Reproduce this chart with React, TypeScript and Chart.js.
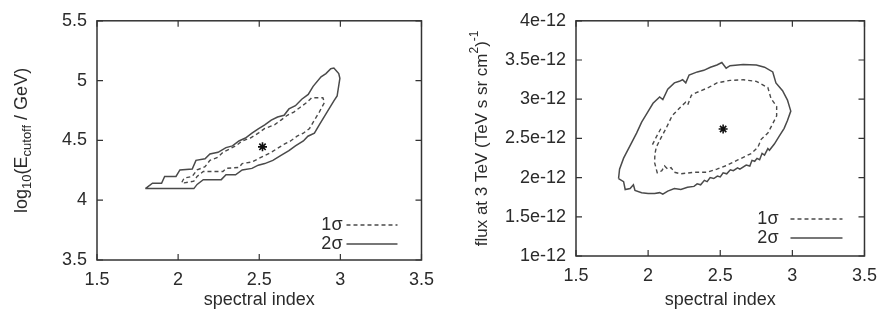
import React, { useEffect, useRef } from "react";
import { Chart, registerables } from "chart.js";

Chart.register(...registerables);

// ---------- shared axis ----------
const xTickValues = [1.5, 2, 2.5, 3, 3.5];
const xTickLabels = ["1.5", "2", "2.5", "3", "3.5"];
const xTitle = "spectral index";

// ---------- left panel: log10(E_cutoff / GeV) vs spectral index ----------
const leftYTickValues = [3.5, 4, 4.5, 5, 5.5];
const leftYTickLabels = ["3.5", "4", "4.5", "5", "5.5"];

const leftSigma2X = [1.798, 1.842, 1.898, 1.917, 1.987, 2.011, 2.087, 2.11, 2.166, 2.196, 2.246, 2.295, 2.335, 2.375, 2.415, 2.455, 2.494, 2.534, 2.574, 2.613, 2.653, 2.683, 2.723, 2.762, 2.802, 2.832, 2.881, 2.911, 2.941, 2.96, 2.99, 2.997, 2.98, 2.96, 2.93, 2.9, 2.87, 2.84, 2.8, 2.772, 2.723, 2.683, 2.634, 2.584, 2.534, 2.494, 2.455, 2.395, 2.354, 2.295, 2.266, 2.155, 2.117, 2.097, 1.798];
const leftSigma2Y = [4.097, 4.142, 4.142, 4.199, 4.199, 4.253, 4.26, 4.333, 4.347, 4.387, 4.4, 4.44, 4.454, 4.495, 4.52, 4.56, 4.597, 4.629, 4.669, 4.696, 4.71, 4.763, 4.79, 4.844, 4.884, 4.952, 5.032, 5.059, 5.1, 5.105, 5.059, 5.019, 4.871, 4.83, 4.763, 4.696, 4.63, 4.56, 4.535, 4.495, 4.454, 4.414, 4.374, 4.333, 4.306, 4.293, 4.266, 4.253, 4.212, 4.212, 4.172, 4.172, 4.132, 4.097, 4.097];

const leftSigma1X = [2.023, 2.037, 2.087, 2.117, 2.166, 2.196, 2.246, 2.276, 2.315, 2.355, 2.395, 2.445, 2.494, 2.534, 2.594, 2.634, 2.673, 2.713, 2.753, 2.793, 2.823, 2.892, 2.902, 2.87, 2.84, 2.81, 2.772, 2.733, 2.693, 2.654, 2.614, 2.574, 2.534, 2.494, 2.455, 2.395, 2.375, 2.296, 2.276, 2.155, 2.117, 2.097, 2.037, 2.023];
const leftSigma1Y = [4.15, 4.185, 4.199, 4.253, 4.28, 4.333, 4.36, 4.4, 4.427, 4.454, 4.495, 4.52, 4.56, 4.6, 4.63, 4.67, 4.71, 4.737, 4.777, 4.817, 4.857, 4.857, 4.817, 4.737, 4.67, 4.6, 4.56, 4.535, 4.495, 4.468, 4.435, 4.4, 4.374, 4.347, 4.32, 4.306, 4.274, 4.266, 4.24, 4.24, 4.199, 4.159, 4.145, 4.15];

const leftBestX = [2.52];
const leftBestY = [4.446];

// ---------- right panel: flux at 3 TeV vs spectral index (values in units of 1e-12) ----------
const FLUX_UNIT = 1e-12;
const rightYTickValues = [1, 1.5, 2, 2.5, 3, 3.5, 4];
const rightYTickLabels = ["1e-12", "1.5e-12", "2e-12", "2.5e-12", "3e-12", "3.5e-12", "4e-12"];

const rightSigma2X = [1.795, 1.802, 1.83, 1.875, 1.92, 1.955, 1.995, 2.034, 2.08, 2.102, 2.136, 2.182, 2.216, 2.239, 2.261, 2.284, 2.341, 2.386, 2.432, 2.477, 2.511, 2.541, 2.568, 2.659, 2.75, 2.807, 2.864, 2.886, 2.932, 2.966, 2.989, 2.966, 2.943, 2.909, 2.875, 2.841, 2.83, 2.807, 2.79, 2.773, 2.755, 2.739, 2.72, 2.705, 2.68, 2.636, 2.62, 2.591, 2.57, 2.545, 2.52, 2.5, 2.48, 2.455, 2.43, 2.409, 2.39, 2.364, 2.34, 2.318, 2.273, 2.227, 2.182, 2.136, 2.102, 2.08, 2.045, 2.0, 1.955, 1.909, 1.898, 1.875, 1.841, 1.83, 1.795];
const rightSigma2Y = [1.988, 2.108, 2.248, 2.408, 2.568, 2.708, 2.828, 2.948, 3.028, 2.996, 3.128, 3.208, 3.228, 3.248, 3.208, 3.308, 3.348, 3.368, 3.408, 3.436, 3.468, 3.396, 3.428, 3.444, 3.436, 3.408, 3.348, 3.208, 3.108, 2.988, 2.848, 2.728, 2.628, 2.528, 2.428, 2.348, 2.37, 2.288, 2.31, 2.228, 2.245, 2.208, 2.22, 2.148, 2.16, 2.108, 2.125, 2.088, 2.1, 2.048, 2.06, 2.008, 2.02, 1.988, 2.0, 1.948, 1.965, 1.908, 1.92, 1.888, 1.876, 1.848, 1.86, 1.828, 1.788, 1.808, 1.796, 1.796, 1.808, 1.836, 1.908, 1.86, 1.848, 1.948, 1.988];

const rightSigma1X = [2.064, 2.045, 2.047, 2.057, 2.09, 2.125, 2.167, 2.23, 2.26, 2.275, 2.3, 2.33, 2.42, 2.477, 2.568, 2.659, 2.75, 2.83, 2.852, 2.891, 2.891, 2.864, 2.83, 2.784, 2.761, 2.716, 2.67, 2.625, 2.58, 2.534, 2.477, 2.409, 2.318, 2.227, 2.182, 2.159, 2.136, 2.114, 2.095, 2.064];
const rightSigma1Y = [2.056, 2.19, 2.3, 2.39, 2.51, 2.63, 2.79, 2.91, 2.96, 2.93, 3.05, 3.08, 3.15, 3.208, 3.24, 3.248, 3.228, 3.148, 3.008, 2.908, 2.788, 2.688, 2.568, 2.488, 2.388, 2.308, 2.268, 2.228, 2.188, 2.148, 2.108, 2.068, 2.068, 2.048, 2.068, 2.128, 2.108, 2.148, 2.088, 2.056];

// small detached piece of the 1 sigma contour
const rightSigma1IslandX = [2.03, 2.06, 2.09];
const rightSigma1IslandY = [2.42, 2.53, 2.63];

const rightBestX = [2.52];
const rightBestY = [2.62];

const legendLabels = ["1σ", "2σ"];

// ---------- drawing helpers ----------
const FONT = '"Liberation Sans", Arial, Helvetica, sans-serif';
const FS = 18;
const TEXT = "#2b2b2b";
const LINE = "#4a4a4a";

type Run = { t: string; size: number; dy: number };

function drawRuns(ctx: CanvasRenderingContext2D, runs: Run[], cx: number, cy: number, rotate: boolean) {
  ctx.save();
  ctx.translate(cx, cy);
  if (rotate) ctx.rotate(-Math.PI / 2);
  let total = 0;
  for (const r of runs) {
    ctx.font = `${r.size}px ${FONT}`;
    total += ctx.measureText(r.t).width;
  }
  let x = -total / 2;
  ctx.fillStyle = TEXT;
  ctx.textBaseline = "middle";
  ctx.textAlign = "left";
  for (const r of runs) {
    ctx.font = `${r.size}px ${FONT}`;
    ctx.fillText(r.t, x, r.dy);
    x += ctx.measureText(r.t).width;
  }
  ctx.restore();
}

type PanelProps = {
  left: number;
  width: number;
  height: number;
  padTop: number;
  padRight: number;
  yAxisWidth: number;
  xAxisHeight: number;
  yMin: number;
  yMax: number;
  yTickValues: number[];
  yTickLabels: string[];
  yScaleFactor: number;
  sigma1: { x: number[]; y: number[] }[];
  sigma2: { x: number[]; y: number[] };
  best: { x: number[]; y: number[] };
  yTitleRuns: Run[];
  yTitleOffset: number;
  xTitleY: number;
  legendTextOffset: number;
  legendLineStart: number;
  legendLineEnd: number;
  legendRow1: number;
  legendRow2: number;
};

function toPoints(xs: number[], ys: number[], f: number) {
  return xs.map((x, i) => ({ x, y: ys[i] * f }));
}

function Panel(p: PanelProps) {
  const ref = useRef<HTMLCanvasElement | null>(null);
  useEffect(() => {
    if (!ref.current) return;
    const f = p.yScaleFactor;
    const framePlugin = {
      id: "gnuplotFrame",
      afterDraw(chart: any) {
        const { ctx, chartArea: a } = chart;
        const xs = chart.scales.x;
        const ys = chart.scales.y;
        ctx.save();
        ctx.strokeStyle = "#333";
        ctx.lineWidth = 1.5;
        ctx.strokeRect(a.left, a.top, a.right - a.left, a.bottom - a.top);
        ctx.lineWidth = 1.2;
        const tl = 6;
        ctx.beginPath();
        for (const v of xTickValues) {
          const px = xs.getPixelForValue(v);
          ctx.moveTo(px, a.bottom);
          ctx.lineTo(px, a.bottom - tl);
          ctx.moveTo(px, a.top);
          ctx.lineTo(px, a.top + tl);
        }
        for (const v of p.yTickValues) {
          const py = ys.getPixelForValue(v * f);
          ctx.moveTo(a.left, py);
          ctx.lineTo(a.left + tl, py);
          ctx.moveTo(a.right, py);
          ctx.lineTo(a.right - tl, py);
        }
        ctx.stroke();
        // legend
        ctx.font = `${FS}px ${FONT}`;
        ctx.fillStyle = TEXT;
        ctx.textAlign = "right";
        ctx.textBaseline = "middle";
        const rows = [a.bottom - p.legendRow1, a.bottom - p.legendRow2];
        ctx.fillText(legendLabels[0], a.right - p.legendTextOffset, rows[0]);
        ctx.fillText(legendLabels[1], a.right - p.legendTextOffset, rows[1]);
        ctx.strokeStyle = LINE;
        ctx.lineWidth = 1.5;
        ctx.setLineDash([4, 3]);
        ctx.beginPath();
        ctx.moveTo(a.right - p.legendLineStart, rows[0]);
        ctx.lineTo(a.right - p.legendLineEnd, rows[0]);
        ctx.stroke();
        ctx.setLineDash([]);
        ctx.beginPath();
        ctx.moveTo(a.right - p.legendLineStart, rows[1]);
        ctx.lineTo(a.right - p.legendLineEnd, rows[1]);
        ctx.stroke();
        ctx.restore();
        drawRuns(ctx, p.yTitleRuns, a.left - p.yTitleOffset, (a.top + a.bottom) / 2, true);
        drawRuns(ctx, [{ t: xTitle, size: FS, dy: 0 }], (a.left + a.right) / 2, p.xTitleY, false);
      },
    };

    const datasets: any[] = [];
    p.sigma1.forEach((s) => {
      datasets.push({
        data: toPoints(s.x, s.y, f),
        showLine: true,
        borderColor: LINE,
        borderWidth: 1.4,
        borderDash: [4, 3],
        pointRadius: 0,
        tension: 0,
        fill: false,
      });
    });
    datasets.push({
      data: toPoints(p.sigma2.x, p.sigma2.y, f),
      showLine: true,
      borderColor: LINE,
      borderWidth: 1.5,
      pointRadius: 0,
      tension: 0,
      fill: false,
    });
    datasets.push({
      data: toPoints(p.best.x, p.best.y, f),
      showLine: false,
      pointStyle: "star",
      pointRadius: 4.5,
      borderColor: "#111",
      backgroundColor: "#111",
      pointBorderWidth: 1.6,
    });

    const chart = new Chart(ref.current, {
      type: "scatter",
      data: { datasets },
      options: {
        animation: false,
        responsive: false,
        layout: { padding: { top: p.padTop, right: p.padRight, left: 0, bottom: 0 } },
        plugins: { legend: { display: false }, tooltip: { enabled: false } },
        scales: {
          x: {
            type: "linear",
            min: 1.5,
            max: 3.5,
            afterFit: (s: any) => {
              s.height = p.xAxisHeight;
            },
            afterBuildTicks: (s: any) => {
              s.ticks = xTickValues.map((v) => ({ value: v }));
            },
            grid: { display: false, drawTicks: false, drawOnChartArea: false },
            border: { display: false },
            ticks: {
              padding: 9,
              color: TEXT,
              font: { family: FONT, size: FS },
              maxRotation: 0,
              autoSkip: false,
              callback: (_v: any, i: number) => xTickLabels[i],
            },
          },
          y: {
            type: "linear",
            min: p.yMin * f,
            max: p.yMax * f,
            afterFit: (s: any) => {
              s.width = p.yAxisWidth;
            },
            afterBuildTicks: (s: any) => {
              s.ticks = p.yTickValues.map((v) => ({ value: v * f }));
            },
            grid: { display: false, drawTicks: false, drawOnChartArea: false },
            border: { display: false },
            ticks: {
              padding: 10,
              color: TEXT,
              font: { family: FONT, size: FS },
              autoSkip: false,
              callback: (_v: any, i: number) => p.yTickLabels[i],
            },
          },
        },
      },
      plugins: [framePlugin],
    } as any);
    return () => chart.destroy();
  }, []);
  return (
    <canvas
      ref={ref}
      width={p.width}
      height={p.height}
      style={{ position: "absolute", left: p.left, top: 0, width: p.width, height: p.height, display: "block" }}
    />
  );
}

export default function App() {
  return (
    <div style={{ position: "absolute", left: 0, top: 0, width: 886, height: 323, background: "#fff", overflow: "hidden" }}>
      <Panel
        left={0}
        width={443}
        height={323}
        padTop={12}
        padRight={11}
        yAxisWidth={97}
        xAxisHeight={63}
        yMin={3.5}
        yMax={5.5}
        yTickValues={leftYTickValues}
        yTickLabels={leftYTickLabels}
        yScaleFactor={1}
        sigma1={[{ x: leftSigma1X, y: leftSigma1Y }]}
        sigma2={{ x: leftSigma2X, y: leftSigma2Y }}
        best={{ x: leftBestX, y: leftBestY }}
        yTitleRuns={[
          { t: "log", size: FS, dy: 0 },
          { t: "10", size: 13, dy: 5 },
          { t: "(E", size: FS, dy: 0 },
          { t: "cutoff", size: 13, dy: 5 },
          { t: " / GeV)", size: FS, dy: 0 },
        ]}
        yTitleOffset={75}
        xTitleY={300}
        legendTextOffset={79}
        legendLineStart={75}
        legendLineEnd={24}
        legendRow1={35}
        legendRow2={16}
      />
      <Panel
        left={443}
        width={443}
        height={323}
        padTop={6}
        padRight={19}
        yAxisWidth={133}
        xAxisHeight={67}
        yMin={1}
        yMax={4}
        yTickValues={rightYTickValues}
        yTickLabels={rightYTickLabels}
        yScaleFactor={FLUX_UNIT}
        sigma1={[
          { x: rightSigma1X, y: rightSigma1Y },
          { x: rightSigma1IslandX, y: rightSigma1IslandY },
        ]}
        sigma2={{ x: rightSigma2X, y: rightSigma2Y }}
        best={{ x: rightBestX, y: rightBestY }}
        yTitleRuns={[
          { t: "flux at 3 TeV (TeV s sr cm", size: 17, dy: 0 },
          { t: "2", size: 12, dy: -7 },
          { t: ")", size: 17, dy: 0 },
          { t: "-1", size: 12, dy: -7 },
        ]}
        yTitleOffset={94}
        xTitleY={300}
        legendTextOffset={86}
        legendLineStart={74}
        legendLineEnd={22}
        legendRow1={37}
        legendRow2={18}
      />
    </div>
  );
}
